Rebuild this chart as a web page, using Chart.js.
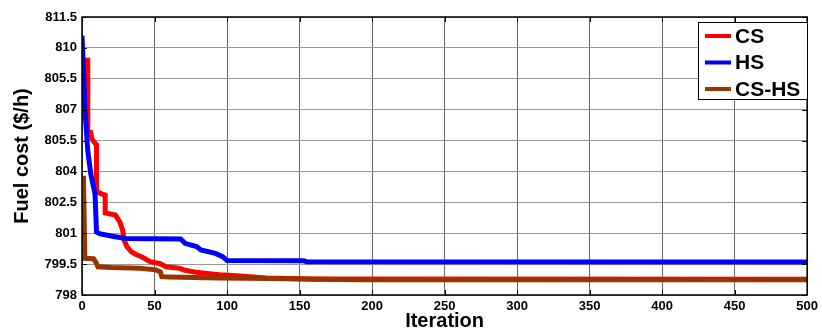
<!DOCTYPE html>
<html>
<head>
<meta charset="utf-8">
<script src="https://cdn.jsdelivr.net/npm/chart.js@4.4.1/dist/chart.umd.min.js"></script>
<style>
  html, body { margin: 0; padding: 0; background: #fff; }
  #wrap { width: 822px; height: 333px; position: relative; }
</style>
</head>
<body>
<div id="wrap"><canvas id="chart"></canvas></div>
<script>
// values
const csIter  = [0, 4, 4, 6, 7, 9, 10, 10, 14, 16, 16, 23, 26, 28, 29, 31, 34, 37, 42, 47, 54, 58, 67, 71, 79, 86, 95, 104, 127, 157, 500];
const csCost  = [809.4, 809.4, 805.93, 805.9, 805.55, 805.37, 805.3, 803.02, 802.9, 802.85, 801.98, 801.88, 801.56, 801.16, 800.67, 800.35, 800.1, 799.98, 799.82, 799.62, 799.52, 799.37, 799.3, 799.2, 799.1, 799.05, 798.98, 798.95, 798.82, 798.78, 798.77];

const hsIter  = [0, 1, 2, 4, 6, 9, 10, 12, 22, 30, 68, 71, 79, 82, 92, 97, 100, 153, 155, 500];
const hsCost  = [810.6, 809.0, 807.0, 805.0, 803.9, 802.9, 801.07, 800.98, 800.84, 800.74, 800.72, 800.51, 800.35, 800.19, 800.02, 799.86, 799.68, 799.66, 799.61, 799.6];

const cshsIter = [0, 1, 2, 8, 10, 11, 20, 40, 51, 54, 55, 60, 95, 129, 164, 190, 500];
const cshsCost = [803.67, 803.67, 799.78, 799.76, 799.54, 799.37, 799.33, 799.3, 799.22, 799.13, 798.89, 798.88, 798.83, 798.8, 798.76, 798.74, 798.74];

const yTickValues = [798, 799.5, 801, 802.5, 804, 805.5, 807, 808.5, 810, 811.5];
const yTickLabels = ['798', '799.5', '801', '802.5', '804', '805.5', '807', '805.5', '810', '811.5'];

const seriesNames  = ['CS', 'HS', 'CS-HS'];
const seriesColors = ['#ff0000', '#0000ff', '#993300'];

const FONT = 'Arial, "Liberation Sans", sans-serif';

function toPoints(xs, ys) {
  return xs.map((x, i) => ({ x: x, y: ys[i] }));
}

// box round the plot, inner tick marks, and the boxed legend
const framePlugin = {
  id: 'frame',
  afterDraw(chart) {
    const { ctx, chartArea: a, scales } = chart;
    ctx.save();
    ctx.strokeStyle = '#000';
    ctx.lineWidth = 1;
    ctx.beginPath();
    scales.x.ticks.forEach(t => {
      const px = Math.round(scales.x.getPixelForValue(t.value)) + 0.5;
      ctx.moveTo(px, a.bottom); ctx.lineTo(px, a.bottom - 5);
      ctx.moveTo(px, a.top); ctx.lineTo(px, a.top + 5);
    });
    scales.y.ticks.forEach(t => {
      const py = Math.round(scales.y.getPixelForValue(t.value)) + 0.5;
      ctx.moveTo(a.left, py); ctx.lineTo(a.left + 5, py);
      ctx.moveTo(a.right, py); ctx.lineTo(a.right - 5, py);
    });
    ctx.stroke();
    ctx.lineWidth = 1.5;
    ctx.strokeRect(a.left, a.top, a.right - a.left, a.bottom - a.top);

    // legend
    const bx = 698, by = 22, bw = 109, bh = 77;
    ctx.fillStyle = '#fff';
    ctx.fillRect(bx, by, bw, bh);
    ctx.lineWidth = 1;
    ctx.strokeRect(bx + 0.5, by + 0.5, bw, bh);
    ctx.font = 'bold 21px ' + FONT;
    ctx.textBaseline = 'middle';
    ctx.textAlign = 'left';
    chart.data.datasets.forEach((ds, i) => {
      const cy = by + 14 + i * 26.5;
      ctx.strokeStyle = ds.borderColor;
      ctx.lineWidth = 4;
      ctx.beginPath();
      ctx.moveTo(bx + 7, cy);
      ctx.lineTo(bx + 33, cy);
      ctx.stroke();
      ctx.fillStyle = '#000';
      ctx.fillText(ds.label, bx + 37, cy + 1);
    });
    ctx.restore();
  }
};

const ctx = document.getElementById('chart').getContext('2d');
new Chart(ctx, {
  type: 'line',
  data: {
    datasets: [
      {
        label: seriesNames[0],
        data: toPoints(csIter, csCost),
        borderColor: seriesColors[0],
        order: 3
      },
      {
        label: seriesNames[1],
        data: toPoints(hsIter, hsCost),
        borderColor: seriesColors[1],
        order: 2
      },
      {
        label: seriesNames[2],
        data: toPoints(cshsIter, cshsCost),
        borderColor: seriesColors[2],
        order: 1
      }
    ]
  },
  options: {
    responsive: true,
    maintainAspectRatio: false,
    animation: false,
    layout: { padding: { left: 0, right: 13, top: 17, bottom: 0 } },
    elements: {
      line: { borderWidth: 5, tension: 0, fill: false, borderJoinStyle: 'miter', borderCapStyle: 'butt' },
      point: { radius: 0 }
    },
    plugins: {
      legend: { display: false },
      tooltip: { enabled: false }
    },
    scales: {
      x: {
        type: 'linear',
        min: 0,
        max: 500,
        ticks: {
          stepSize: 50,
          padding: 4,
          color: '#000',
          font: { family: FONT, size: 13, weight: 'bold' }
        },
        grid: { color: '#666', lineWidth: 1, drawTicks: false },
        border: { display: false },
        title: {
          display: true,
          text: 'Iteration',
          color: '#000',
          padding: { top: 0, bottom: 0 },
          font: { family: FONT, size: 20, weight: 'bold' }
        },
        afterFit(scale) { scale.height = 38; }
      },
      y: {
        type: 'linear',
        min: 798,
        max: 811.5,
        afterBuildTicks(scale) {
          scale.ticks = yTickValues.map(v => ({ value: v }));
        },
        ticks: {
          padding: 5,
          color: '#000',
          font: { family: FONT, size: 13, weight: 'bold' },
          callback: (value, index) => yTickLabels[index]
        },
        grid: { color: '#999', lineWidth: 1, drawTicks: false },
        border: { display: false },
        title: {
          display: true,
          text: 'Fuel cost ($/h)',
          color: '#000',
          padding: { top: 10, bottom: 0 },
          font: { family: FONT, size: 20, weight: 'bold' }
        },
        afterFit(scale) { scale.width = 82; }
      }
    }
  },
  plugins: [framePlugin]
});
</script>
</body>
</html>
